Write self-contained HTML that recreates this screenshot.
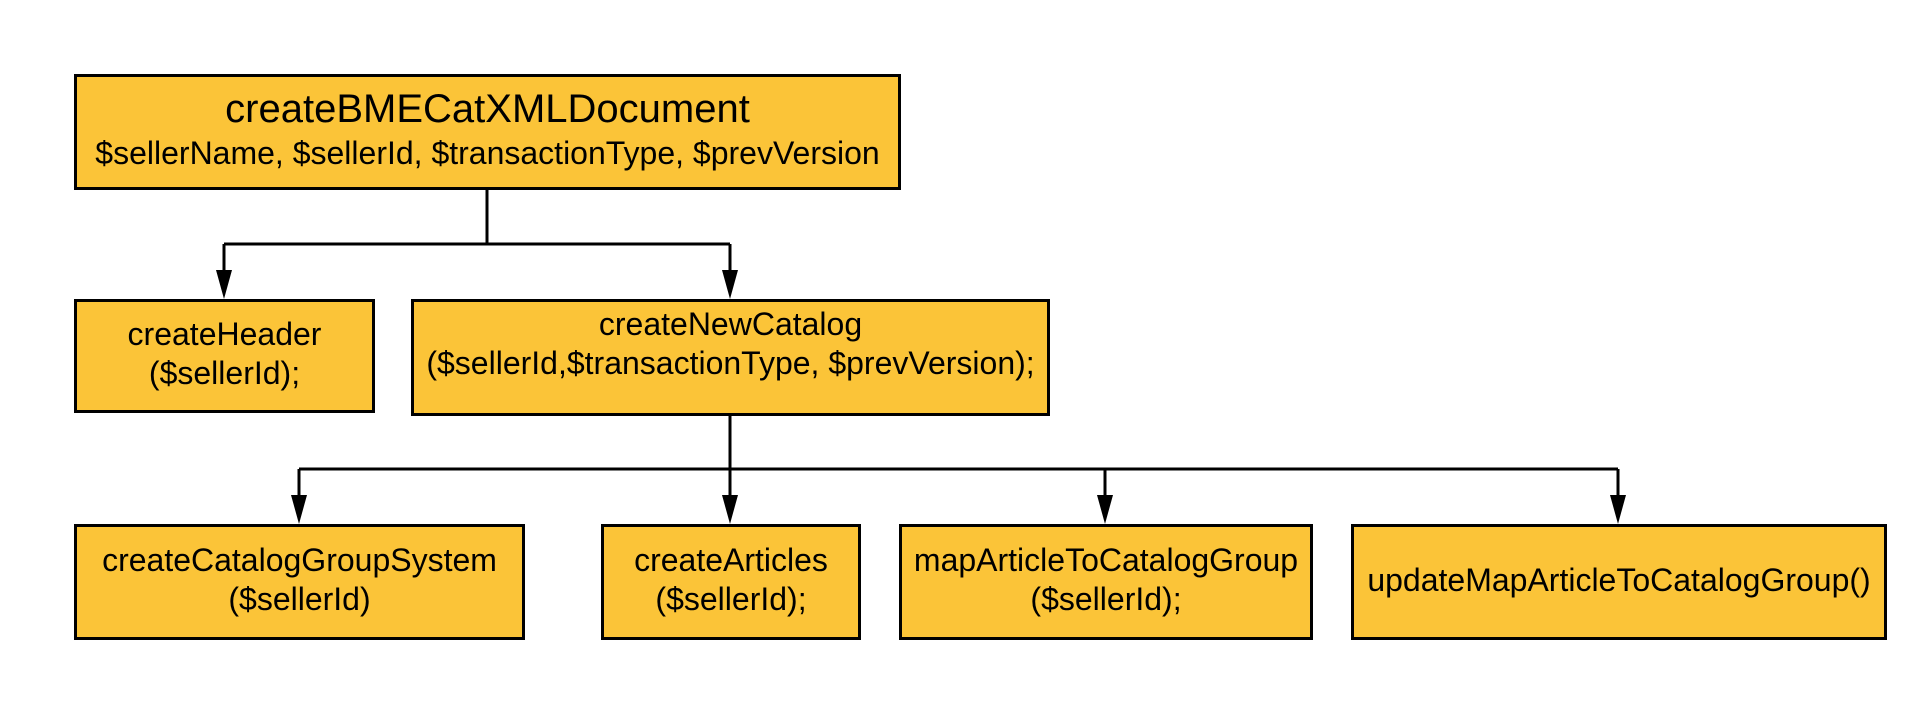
<!DOCTYPE html>
<html><head><style>
body{margin:0;width:1912px;height:714px;background:#fff;position:relative;overflow:hidden;font-family:"Liberation Sans",sans-serif}
.b{position:absolute;box-sizing:border-box;background:#FBC438;border:3px solid #000;display:flex;flex-direction:column;align-items:center;justify-content:center;text-align:center;color:#000;font-size:32px;line-height:39px;white-space:nowrap;padding-bottom:4px}
svg{position:absolute;left:0;top:0}
</style></head><body>
<svg width="1912" height="714">
<g stroke="#000" stroke-width="3" fill="none">
<path d="M487,189 V244 M224,244 H730 M224,244 V272 M730,244 V272"/>
<path d="M730,415 V469 M299,469 H1618 M299,469 V497 M730,469 V497 M1105,469 V497 M1618,469 V497"/>
</g>
<g fill="#000">
<path d="M216,270 H232 L224,299 Z"/>
<path d="M722,270 H738 L730,299 Z"/>
<path d="M291,495 H307 L299,524 Z"/>
<path d="M722,495 H738 L730,524 Z"/>
<path d="M1097,495 H1113 L1105,524 Z"/>
<path d="M1610,495 H1626 L1618,524 Z"/>
</g></svg>
<div class="b" style="left:74px;top:74px;width:827px;height:116px"><div style="font-size:40px;line-height:46px">createBMECatXMLDocument</div><div style="font-size:32px;line-height:42px">$sellerName, $sellerId, $transactionType, $prevVersion</div></div>
<div class="b" style="left:74px;top:299px;width:301px;height:114px"><div>createHeader</div><div>($sellerId);</div></div>
<div class="b" style="left:411px;top:299px;width:639px;height:117px;justify-content:flex-start;padding-top:3px"><div>createNewCatalog</div><div>($sellerId,$transactionType, $prevVersion);</div></div>
<div class="b" style="left:74px;top:524px;width:451px;height:116px"><div>createCatalogGroupSystem</div><div>($sellerId)</div></div>
<div class="b" style="left:601px;top:524px;width:260px;height:116px"><div>createArticles</div><div>($sellerId);</div></div>
<div class="b" style="left:899px;top:524px;width:414px;height:116px"><div>mapArticleToCatalogGroup</div><div>($sellerId);</div></div>
<div class="b" style="left:1351px;top:524px;width:536px;height:116px"><div>updateMapArticleToCatalogGroup()</div></div>
</body></html>
